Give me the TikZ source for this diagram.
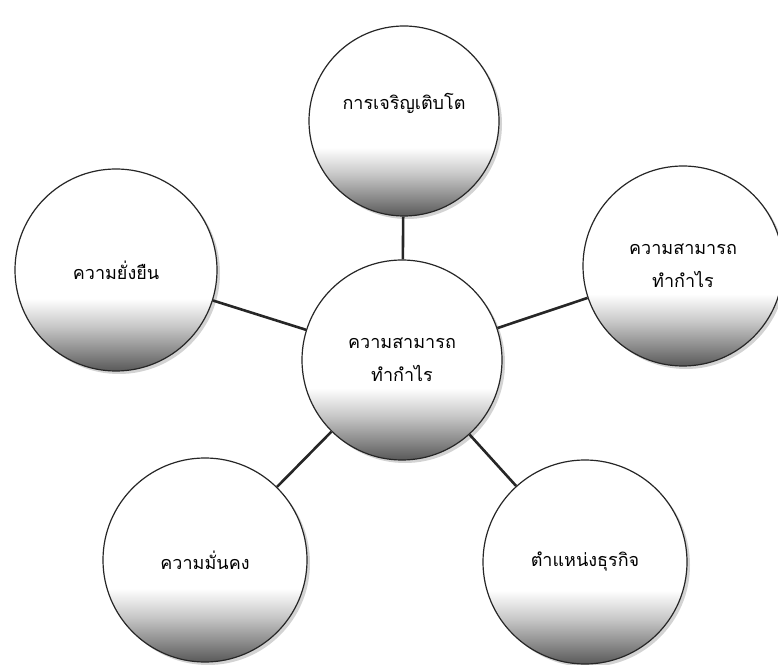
\documentclass[tikz,border=0pt]{standalone}
\usepackage{fontspec}
\newfontfamily\thaifont[Script=Thai]{Loma}
\usepackage{xcolor}
\usetikzlibrary{shadows}
% white ball, grey towards the bottom
\pgfdeclareverticalshading{ballshade}{100bp}{color(0bp)=(black!70); color(25bp)=(black!65); color(30bp)=(black!45); color(36bp)=(black!22); color(43bp)=(white); color(100bp)=(white)}

\begin{document}
\begin{tikzpicture}[
  x=1pt,y=1pt,
  font=\thaifont\fontsize{18}{33}\selectfont,
  ball/.style={circle,draw=black!85,line width=1.2pt,shading=ballshade,align=center,inner sep=0pt,minimum size=200pt,
               drop shadow={shadow xshift=3pt,shadow yshift=-3pt,opacity=0.35}},
  link/.style={line width=2.6pt,black!85},
]
\useasboundingbox (0,0) rectangle (778,664);

\node[ball] (hub) at (402,304) {ความสามารถ\\ทำกำไร};
\node[ball,minimum size=190pt,text height=14pt,text depth=36pt] (grow) at (404,543) {การเจริญเติบโต};
\node[ball,minimum size=202pt] (sust) at (116,394) {ความยั่งยืน};
\node[ball] (prof) at (683,398) {ความสามารถ\\ทำกำไร};
\node[ball,minimum size=204pt] (stab) at (205,104) {ความมั่นคง};
\node[ball,minimum size=204pt] (posn) at (585,102) {ตำแหน่งธุรกิจ};

\draw[link] (hub) -- (grow);
\draw[link] (hub) -- (sust);
\draw[link] (hub) -- (prof);
\draw[link] (hub) -- (stab);
\draw[link] (hub) -- (posn);
\end{tikzpicture}
\end{document}
